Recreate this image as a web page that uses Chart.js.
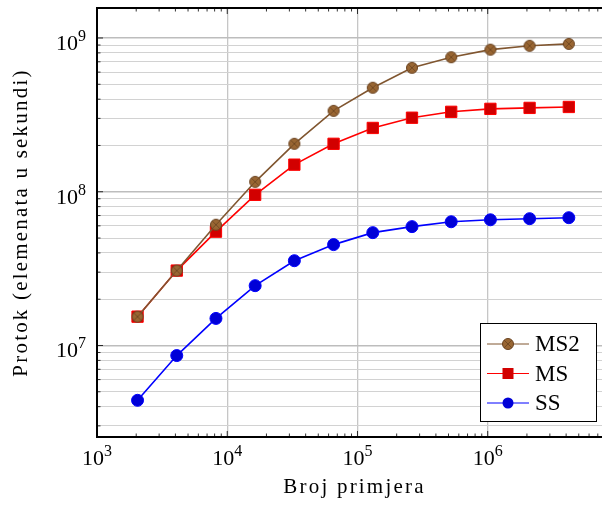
<!DOCTYPE html>
<html>
<head>
<meta charset="utf-8">
<title>Protok</title>
<script src="https://cdn.jsdelivr.net/npm/chart.js@4.4.1/dist/chart.umd.min.js"></script>
<style>
  html, body { margin: 0; padding: 0; background: #fff; overflow: hidden; }
  #chart { display: block; }
</style>
</head>
<body>
<!-- the plot box runs a little past the right edge of the window, as in the original crop -->
<canvas id="chart" width="612" height="506"></canvas>
<script>
// ==================== DATA ====================
const sampleCounts = [2048, 4096, 8192, 16384, 32768, 65536, 131072, 262144, 524288, 1048576, 2097152, 4194304];
const ms2Values = [1.54e7, 3.07e7, 6.1e7, 1.16e8, 2.05e8, 3.36e8, 4.75e8, 6.4e8, 7.5e8, 8.4e8, 8.9e8, 9.15e8];
const msValues  = [1.54e7, 3.07e7, 5.5e7, 9.55e7, 1.5e8, 2.05e8, 2.6e8, 3.03e8, 3.31e8, 3.46e8, 3.51e8, 3.56e8];
const ssValues  = [4.4e6, 8.6e6, 1.5e7, 2.45e7, 3.56e7, 4.53e7, 5.42e7, 5.93e7, 6.38e7, 6.57e7, 6.68e7, 6.78e7];
const seriesNames = ['MS2', 'MS', 'SS'];
const xTickExponents = [3, 4, 5, 6];
const yTickExponents = [7, 8, 9];
const xTitle = 'Broj primjera';
const yTitle = 'Protok (elemenata u sekundi)';

// ==================== STYLE ====================
const FONT = "'Liberation Serif', 'DejaVu Serif', serif";
const BROWN_LINE = 'rgb(128,86,48)';
const BROWN_FILL = 'rgb(153,102,51)';
const BROWN_DARK = 'rgb(105,66,32)';

function isPow10(v) {
    const l = Math.log10(v);
    return Math.abs(l - Math.round(l)) < 1e-9;
}

// tick values 1..9 x 10^n inside the scale range
function logTicks(scale, exps) {
    const out = [];
    const lo = exps[0] - 1, hi = exps[exps.length - 1] + 1;
    for (let e = lo; e <= hi; e++) {
        for (let m = 1; m <= 9; m++) {
            const v = m * Math.pow(10, e);
            if (v >= scale.min && v <= scale.max) out.push({ value: v, major: m === 1 });
        }
    }
    scale.ticks = out;
}

// otimes* marker for MS2
function makeOtimes(r) {
    const c = document.createElement('canvas');
    const s = Math.ceil(r * 2 + 3);
    c.width = s; c.height = s;
    const g = c.getContext('2d');
    const m = s / 2;
    g.beginPath();
    g.arc(m, m, r, 0, Math.PI * 2);
    g.fillStyle = BROWN_FILL;
    g.fill();
    g.lineWidth = 1;
    g.strokeStyle = BROWN_DARK;
    g.stroke();
    const d = r * Math.SQRT1_2;
    g.beginPath();
    g.moveTo(m - d, m - d); g.lineTo(m + d, m + d);
    g.moveTo(m - d, m + d); g.lineTo(m + d, m - d);
    g.lineWidth = 0.8;
    g.stroke();
    return c;
}
const otimes = makeOtimes(5.5);

// "10" with a raised exponent
function drawPow(ctx, e, x, base, align) {
    ctx.font = '22px ' + FONT;
    const wMain = ctx.measureText('10').width;
    ctx.font = '16px ' + FONT;
    const wSup = ctx.measureText(String(e)).width;
    let left = align === 'right' ? x - wMain - wSup : x - (wMain + wSup) / 2;
    ctx.font = '22px ' + FONT;
    ctx.fillText('10', left, base);
    ctx.font = '16px ' + FONT;
    ctx.fillText(String(e), left + wMain, base - 9);
}

// ==================== PLUGINS ====================
const innerTicks = {
    id: 'innerTicks',
    beforeDraw(chart) {
        chart.ctx.letterSpacing = '2.2px';
    },
    beforeDatasetsDraw(chart) {
        const { ctx, chartArea: a, scales } = chart;
        ctx.save();
        ctx.strokeStyle = '#000';
        ctx.lineWidth = 0.8;
        scales.x.ticks.forEach(t => {
            const px = scales.x.getPixelForValue(t.value);
            const len = t.major ? 6 : 3.5;
            ctx.beginPath();
            ctx.moveTo(px, a.bottom); ctx.lineTo(px, a.bottom - len);
            ctx.moveTo(px, a.top); ctx.lineTo(px, a.top + len);
            ctx.stroke();
        });
        scales.y.ticks.forEach(t => {
            const py = scales.y.getPixelForValue(t.value);
            const len = t.major ? 6 : 3.5;
            ctx.beginPath();
            ctx.moveTo(a.left, py); ctx.lineTo(a.left + len, py);
            ctx.stroke();
        });
        // top frame line
        ctx.lineWidth = 2;
        ctx.beginPath();
        ctx.moveTo(a.left - 1, a.top); ctx.lineTo(a.right, a.top);
        ctx.stroke();
        ctx.restore();
    },
    afterDraw(chart) {
        const { ctx, chartArea: a, scales } = chart;
        ctx.save();
        ctx.letterSpacing = '0px';
        ctx.fillStyle = '#000';
        ctx.textAlign = 'left';
        ctx.textBaseline = 'alphabetic';
        xTickExponents.forEach(e => {
            const px = scales.x.getPixelForValue(Math.pow(10, e));
            drawPow(ctx, e, px, a.bottom + 28, 'center');
        });
        yTickExponents.forEach(e => {
            const py = scales.y.getPixelForValue(Math.pow(10, e));
            drawPow(ctx, e, 86, py + 12, 'right');
        });
        ctx.restore();
    }
};

const boxLegend = {
    id: 'boxLegend',
    afterDraw(chart) {
        const { ctx } = chart;
        const x0 = 480.5, y0 = 323.5, w = 116, h = 98;
        ctx.save();
        ctx.letterSpacing = '0px';
        ctx.fillStyle = '#fff';
        ctx.fillRect(x0, y0, w, h);
        ctx.strokeStyle = '#000';
        ctx.lineWidth = 1;
        ctx.strokeRect(x0, y0, w, h);
        ctx.font = '23px ' + FONT;
        ctx.textBaseline = 'middle';
        ctx.textAlign = 'left';
        chart.data.datasets.forEach((ds, i) => {
            const cy = 344 + i * 29.5;
            const lx = 487, rx = 529, mx = 508;
            ctx.strokeStyle = ds.borderColor;
            ctx.lineWidth = 1;
            ctx.beginPath();
            ctx.moveTo(lx, cy); ctx.lineTo(rx, cy);
            ctx.stroke();
            if (i === 0) {
                ctx.drawImage(otimes, mx - otimes.width / 2, cy - otimes.height / 2);
            } else if (i === 1) {
                ctx.fillStyle = ds.pointBackgroundColor;
                ctx.fillRect(mx - 5.5, cy - 5.5, 11, 11);
            } else {
                ctx.fillStyle = ds.pointBackgroundColor;
                ctx.beginPath();
                ctx.arc(mx, cy, 5.5, 0, Math.PI * 2);
                ctx.fill();
            }
            ctx.fillStyle = '#000';
            ctx.fillText(ds.label, 535, cy + 1);
        });
        ctx.restore();
    }
};

// ==================== CHART ====================
const toPoints = vals => vals.map((v, i) => ({ x: sampleCounts[i], y: v }));

const ctx = document.getElementById('chart').getContext('2d');
new Chart(ctx, {
    type: 'line',
    data: {
        datasets: [
            {
                label: seriesNames[0],
                data: toPoints(ms2Values),
                borderColor: BROWN_LINE,
                borderWidth: 1.6,
                pointStyle: otimes,
                pointRadius: 5.5,
                pointBackgroundColor: BROWN_FILL
            },
            {
                label: seriesNames[1],
                data: toPoints(msValues),
                borderColor: 'rgb(255,0,0)',
                borderWidth: 1.6,
                pointStyle: 'rect',
                pointRadius: 8,
                pointBackgroundColor: 'rgb(210,0,0)',
                pointBorderColor: 'rgb(255,0,0)',
                pointBorderWidth: 1
            },
            {
                label: seriesNames[2],
                data: toPoints(ssValues),
                borderColor: 'rgb(0,0,255)',
                borderWidth: 1.6,
                pointStyle: 'circle',
                pointRadius: 6,
                pointBackgroundColor: 'rgb(0,0,215)',
                pointBorderColor: 'rgb(0,0,255)',
                pointBorderWidth: 1
            }
        ]
    },
    options: {
        responsive: false,
        animation: false,
        devicePixelRatio: 1,
        layout: { autoPadding: false, padding: { top: 8, right: 0, left: 0, bottom: 0 } },
        plugins: {
            legend: { display: false },
            tooltip: { enabled: false }
        },
        elements: { line: { tension: 0 } },
        scales: {
            x: {
                type: 'logarithmic',
                position: 'bottom',
                min: 1000,
                max: 9.0e6,
                afterBuildTicks: s => logTicks(s, xTickExponents),
                afterFit: s => {
                    s.height = 69;
                    s.paddingLeft = 0; s.paddingRight = 0;
                },
                grid: {
                    drawTicks: false,
                    color: c => (c.tick && isPow10(c.tick.value)) ? '#c6c6c6' : 'rgba(0,0,0,0)',
                    lineWidth: 1.3
                },
                border: { display: true, color: '#000', width: 2 },
                ticks: { display: false, autoSkip: false, maxRotation: 0, minRotation: 0 },
                title: {
                    display: true,
                    text: xTitle,
                    color: '#000',
                    font: { family: FONT, size: 21 },
                    padding: { top: 0, bottom: 6 }
                }
            },
            y: {
                type: 'logarithmic',
                min: 2.54e6,
                max: 1.567e9,
                afterBuildTicks: s => logTicks(s, yTickExponents),
                afterFit: s => {
                    s.width = 97;
                    s.paddingTop = 0; s.paddingBottom = 0;
                },
                grid: {
                    drawTicks: false,
                    color: c => (c.tick && isPow10(c.tick.value)) ? '#bdbdbd' : '#d2d2d2',
                    lineWidth: c => (c.tick && isPow10(c.tick.value)) ? 1.4 : 1
                },
                border: { display: true, color: '#000', width: 2 },
                ticks: { display: false, autoSkip: false },
                title: {
                    display: true,
                    text: yTitle,
                    color: '#000',
                    font: { family: FONT, size: 21 },
                    padding: { top: 9, bottom: 0 }
                }
            }
        }
    },
    plugins: [innerTicks, boxLegend]
});
</script>
</body>
</html>
